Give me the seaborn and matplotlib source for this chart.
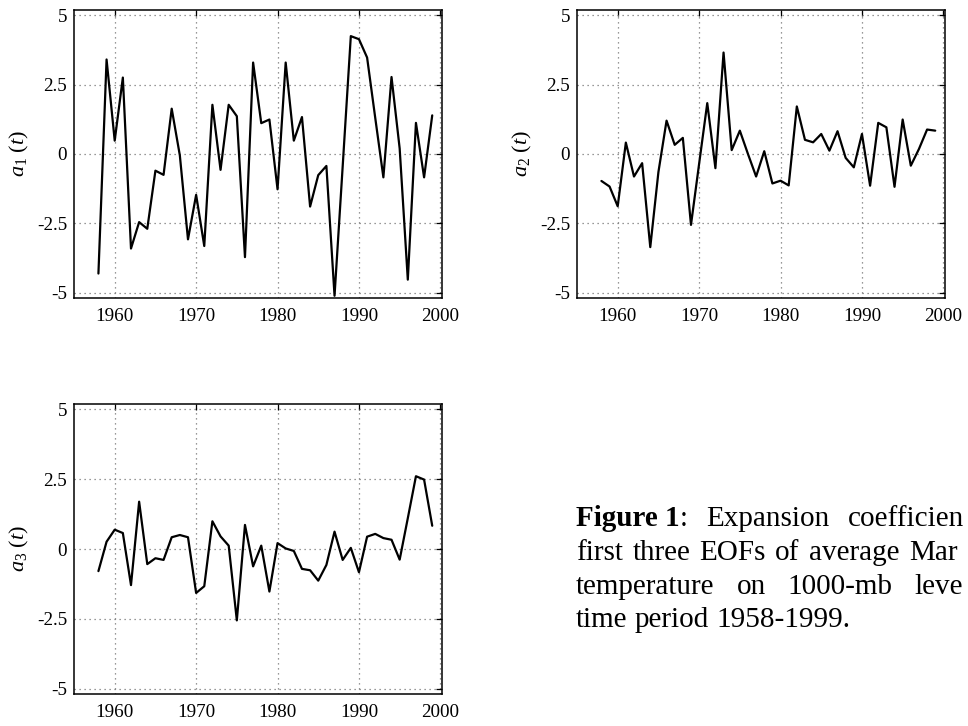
import numpy as np
import pandas as pd
import matplotlib
matplotlib.use("Agg")
import matplotlib.pyplot as plt
import seaborn as sns

years = [1958, 1959, 1960, 1961, 1962, 1963, 1964, 1965, 1966, 1967,
         1968, 1969, 1970, 1971, 1972, 1973, 1974, 1975, 1976, 1977,
         1978, 1979, 1980, 1981, 1982, 1983, 1984, 1985, 1986, 1987,
         1988, 1989, 1990, 1991, 1992, 1993, 1994, 1995, 1996, 1997,
         1998, 1999]

a1 = [-4.3, 3.4, 0.48, 2.75, -3.4, -2.45, -2.69, -0.6, -0.75, 1.63,
      -0.05, -3.07, -1.47, -3.31, 1.77, -0.57, 1.77, 1.36, -3.71, 3.29,
      1.11, 1.24, -1.27, 3.29, 0.48, 1.33, -1.89, -0.76, -0.43, -5.1,
      -0.45, 4.24, 4.13, 3.47, 1.3, -0.84, 2.77, 0.2, -4.52, 1.12,
      -0.84, 1.39]

a2 = [-0.97, -1.17, -1.88, 0.41, -0.81, -0.33, -3.35, -0.65, 1.2, 0.33,
      0.58, -2.55, -0.35, 1.83, -0.51, 3.65, 0.14, 0.84, 0.0, -0.81,
      0.1, -1.06, -0.96, -1.13, 1.71, 0.51, 0.42, 0.72, 0.12, 0.82,
      -0.14, -0.48, 0.72, -1.14, 1.12, 0.96, -1.18, 1.24, -0.42, 0.18,
      0.88, 0.84]

a3 = [-0.79, 0.26, 0.69, 0.57, -1.29, 1.69, -0.54, -0.33, -0.39, 0.42,
      0.5, 0.42, -1.57, -1.33, 0.99, 0.45, 0.12, -2.55, 0.86, -0.62,
      0.12, -1.52, 0.21, 0.02, -0.07, -0.71, -0.76, -1.13, -0.57, 0.62,
      -0.39, 0.04, -0.83, 0.44, 0.54, 0.39, 0.33, -0.38, 1.1, 2.6,
      2.48, 0.83]

series_labels = [r"$a_1\ (t)$", r"$a_2\ (t)$", r"$a_3\ (t)$"]
x_ticks = [1960, 1970, 1980, 1990, 2000]
y_ticks = [-5, -2.5, 0, 2.5, 5]
y_tick_labels = ["-5", "-2.5", "0", "2.5", "5"]

# caption as visible in the reference (it runs off the right edge there)
caption_lines = [
    [[("Figure 1", "bold"), (":", "normal")], [("Expansion", "normal")],
     [("coefficien", "normal")]],
    [[("first", "normal")], [("three", "normal")], [("EOFs", "normal")],
     [("of", "normal")], [("average", "normal")], [("Mar", "normal")]],
    [[("temperature", "normal")], [("on", "normal")], [("1000-mb", "normal")],
     [("leve", "normal")]],
    [[("time", "normal")], [("period", "normal")], [("1958-1999.", "normal")]],
]

sns.set_theme(style="white")
plt.rcParams["font.family"] = ["Liberation Serif", "DejaVu Serif"]
plt.rcParams["mathtext.fontset"] = "custom"
plt.rcParams["mathtext.rm"] = "Liberation Serif"
plt.rcParams["mathtext.it"] = "Liberation Serif:italic"
plt.rcParams["axes.unicode_minus"] = False

W, H = 968, 726
fig = plt.figure(figsize=(W / 100, H / 100), dpi=100)
fig.patch.set_facecolor("white")

def px_axes(left, top, right, bottom):
    return fig.add_axes([left / W, 1 - bottom / H, (right - left) / W, (bottom - top) / H])

axes = [
    px_axes(74, 10, 442, 298),
    px_axes(577, 10, 945, 298),
    px_axes(74, 404, 442, 694),
]

data = [a1, a2, a3]
for ax, vals, lab in zip(axes, data, series_labels):
    df = pd.DataFrame({"year": years, "value": vals})
    sns.lineplot(data=df, x="year", y="value", ax=ax, color="black",
                 linewidth=1.6)
    ax.set_xlim(1955, 2000.2)
    ax.set_ylim(-5.18, 5.18)
    ax.set_xticks(x_ticks)
    ax.set_xticklabels([str(t) for t in x_ticks])
    ax.set_yticks(y_ticks)
    ax.set_yticklabels(y_tick_labels)
    ax.grid(True, color="#777777", linestyle=(0, (1, 3)), linewidth=0.9)
    ax.tick_params(direction="in", top=True, right=True, length=4, width=0.9,
                   labelsize=13.8, colors="black")
    ax.tick_params(axis="x", pad=7)
    ax.tick_params(axis="y", pad=5)
    for s in ax.spines.values():
        s.set_color("black")
        s.set_linewidth(1.1)
        s.set_visible(True)
    ax.set_xlabel("")
    ax.set_ylabel(lab, fontsize=16, labelpad=4, color="black")
    ax.set_facecolor("white")

# caption: justified text block aligned with the right-hand column
fs = 21
x_left = 576.0
baselines = [526, 560, 594, 627]
word_gaps = [18.4, 9.4, 22.0, None]   # None -> ordinary word space
fig.canvas.draw()
renderer = fig.canvas.get_renderer()

def text_width(s, weight):
    t = fig.text(0, 0, s, fontsize=fs, fontweight=weight)
    w = t.get_window_extent(renderer=renderer).width
    t.remove()
    return w

space_w = text_width("a a", "normal") - 2 * text_width("a", "normal")

for words, yb, g in zip(caption_lines, baselines, word_gaps):
    gap = space_w if g is None else g
    x = x_left
    for word in words:
        for s, wt in word:
            fig.text(x / W, 1 - yb / H, s, fontsize=fs, fontweight=wt,
                     ha="left", va="baseline", color="black")
            x += text_width(s, wt)
        x += gap

fig.savefig("out.png", dpi=100, facecolor="white")
